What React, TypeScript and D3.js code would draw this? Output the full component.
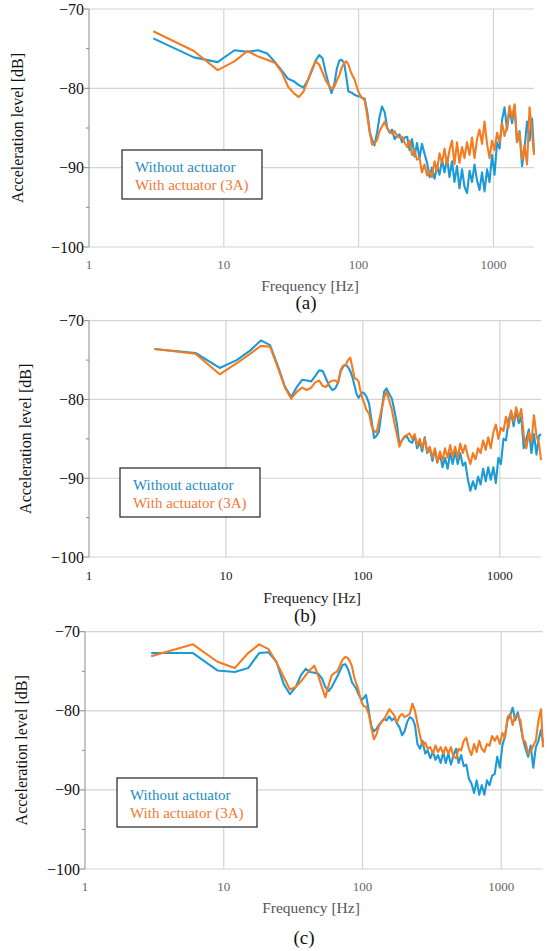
import React from 'react'
import * as d3 from 'd3'

// frequency points shared by every series [Hz]
const freqs = [
	3, 6, 9, 12, 15, 18, 21, 24, 27, 30,
	33, 36, 39, 42, 45, 48, 51, 54, 57, 60,
	63, 66, 69, 72, 75, 78, 81, 84, 87, 90,
	93, 96, 99,
	102, 106, 111, 116, 121, 126, 131, 137, 143, 149,
	156, 163, 170, 177, 185, 193, 201, 210, 219, 229,
	239, 249, 260, 271, 283, 295, 308, 322, 336, 350,
	366, 382, 398, 416, 434, 453, 472, 493, 514, 537,
	560, 585, 610, 637, 665, 694, 724, 756, 789, 823,
	859, 897, 936, 977, 1019, 1064, 1110, 1159, 1209, 1262,
	1317, 1375, 1435, 1497, 1563, 1631, 1702, 1776, 1854, 1935,
	2000
]

const blueA = [
	-73.7, -76.1, -76.7, -75.2, -75.4, -75.2, -75.6, -76.7, -77.8, -78.8,
	-79.1, -79.6, -79.9, -79.0, -77.8, -76.5, -75.8, -76.2, -78.0, -79.5,
	-80.6, -79.5, -77.5, -76.5, -76.4, -76.8, -78.5, -80.4, -80.5, -80.6,
	-80.8, -80.9, -81.0,
	-81.0, -81.2, -81.3, -83.0, -85.5, -86.5, -87.2, -85.6, -83.6, -82.3,
	-83.0, -85.0, -85.6, -85.2, -86.4, -86.0, -85.8, -86.8, -86.2, -86.1,
	-87.8, -86.4, -88.6, -86.9, -88.8, -87.0, -88.2, -89.4, -91.2, -90.0,
	-91.4, -89.8, -90.9, -89.0, -90.6, -88.8, -91.2, -89.2, -91.8, -89.8,
	-92.6, -90.2, -92.4, -93.2, -90.4, -91.8, -89.6, -91.6, -92.8, -90.6,
	-93.0, -90.2, -91.8, -88.4, -90.9, -86.8, -87.6, -84.0, -82.4, -85.2,
	-82.6, -84.4, -82.2, -86.8, -85.4, -89.8, -87.6, -84.2, -86.6, -83.8,
	-88.0
]

const orangeA = [
	-72.8, -75.3, -77.7, -76.6, -75.3, -76.0, -76.4, -76.8, -78.0, -79.8,
	-80.6, -81.1, -80.4, -79.0, -77.6, -76.6, -77.0, -78.0, -79.0, -79.6,
	-80.1, -79.8, -79.0, -78.3, -77.4, -76.8, -76.6, -77.0, -77.8, -78.4,
	-78.8, -79.6, -80.3,
	-80.8, -81.2, -81.5, -83.5, -85.6, -87.1, -87.0, -86.5, -85.4, -84.8,
	-84.2, -85.0, -85.5, -85.7, -85.4, -86.0, -86.2, -86.1, -86.8, -87.4,
	-86.6, -88.4, -87.8, -89.0, -88.8, -90.6, -89.6, -91.0, -90.4, -91.2,
	-89.2, -90.4, -88.2, -89.4, -87.6, -89.6, -87.8, -86.6, -89.6, -86.8,
	-89.4, -87.4, -88.8, -86.8, -88.4, -86.2, -88.8, -86.4, -85.2, -87.0,
	-84.2, -87.0, -88.8, -86.6, -87.8, -85.6, -86.8, -84.4, -86.0, -84.8,
	-82.2, -83.8, -82.0, -86.8, -85.6, -89.0, -87.2, -89.6, -82.4, -85.6,
	-88.4
]

const blueB = [
	-73.6, -74.1, -76.0, -75.0, -73.8, -72.5, -73.1, -75.8, -78.4, -79.7,
	-78.4, -77.5, -77.6, -77.7, -77.0, -76.3, -76.4, -77.4, -78.3, -78.8,
	-78.6, -77.8, -76.4, -75.8, -75.6, -75.9, -76.4, -77.2, -78.3, -79.3,
	-79.8, -79.4, -79.1,
	-79.2, -79.6, -80.5, -82.8, -84.9, -84.6, -84.1, -81.5, -79.0, -78.6,
	-79.3, -79.9, -81.4, -83.0, -85.7, -85.2, -84.8, -84.7, -85.3, -85.5,
	-84.6, -86.2, -85.4, -86.6, -84.8, -86.8, -86.2, -87.8, -86.4, -88.0,
	-87.0, -88.6, -87.4, -88.8, -86.8, -88.2, -86.6, -88.2, -86.8, -88.4,
	-88.0, -90.2, -91.6, -90.4, -91.4, -89.8, -90.8, -88.8, -90.4, -88.6,
	-90.2, -88.6, -90.6, -87.4, -88.2, -85.0, -85.2, -82.6, -81.6, -83.4,
	-81.4, -83.0, -82.2, -86.2, -85.0, -83.8, -86.8, -84.4, -87.0, -84.6,
	-84.4
]

const orangeB = [
	-73.6, -74.2, -76.8, -75.4, -74.2, -73.2, -73.3, -76.0, -78.5, -79.9,
	-79.0, -78.5, -78.8, -78.5, -77.8, -77.6, -78.3, -78.4, -77.8, -77.6,
	-77.6, -77.9, -76.2, -75.7, -75.6, -75.0, -74.7, -76.0, -77.3, -77.4,
	-77.7, -78.9, -79.8,
	-80.4, -81.3, -81.8, -83.4, -84.0, -84.2, -82.8, -81.2, -79.8, -79.0,
	-80.2, -81.3, -83.0, -84.4, -86.0, -85.2, -84.7, -84.5, -84.3, -85.0,
	-84.4, -85.8, -85.0, -86.2, -85.0, -86.6, -86.0, -87.4, -86.2, -88.0,
	-86.6, -87.8, -86.2, -87.4, -85.8, -87.2, -86.0, -87.4, -85.6, -86.8,
	-85.8, -87.2, -88.2, -86.8, -87.6, -86.2, -86.8, -85.2, -86.4, -84.8,
	-86.2, -84.2, -83.2, -85.0, -83.6, -84.0, -82.2, -83.6, -81.4, -82.8,
	-81.0, -82.4, -81.2, -84.6, -86.2, -84.2, -85.4, -82.0, -84.6, -85.6,
	-87.7
]

const blueC = [
	-72.7, -72.7, -74.9, -75.1, -74.6, -72.7, -72.6, -73.8, -76.6, -77.9,
	-77.0, -75.5, -74.7, -75.1, -75.2, -75.3, -75.9, -77.0, -77.5, -77.0,
	-76.3, -75.6, -74.9, -74.2, -74.1, -74.6, -75.4, -76.4, -76.8, -77.2,
	-77.8, -78.3, -78.6,
	-78.4, -78.0, -80.0, -82.0, -82.6, -82.3, -81.8, -81.4, -81.0, -81.2,
	-80.7, -81.2, -80.9, -81.6, -82.1, -83.1, -82.6, -81.4, -80.8, -81.0,
	-81.8, -84.2, -84.8, -83.8, -85.4, -85.0, -86.0, -85.2, -86.2, -85.6,
	-86.6, -85.2, -86.6, -85.4, -86.8, -85.6, -84.8, -86.6, -85.6, -87.0,
	-86.8, -88.6, -89.2, -90.4, -88.8, -90.6, -89.4, -90.6, -88.8, -89.4,
	-88.2, -88.0, -85.8, -87.2, -84.4, -83.2, -81.2, -80.6, -79.6, -81.2,
	-80.2, -81.8, -83.6, -84.8, -85.8, -84.4, -87.2, -84.6, -83.8, -82.4,
	-84.0
]

const orangeC = [
	-73.1, -71.6, -73.8, -74.6, -72.7, -71.6, -72.2, -73.9, -75.7, -77.3,
	-77.0, -76.3, -75.5, -74.8, -74.3, -75.6, -77.0, -78.3, -76.8, -75.5,
	-75.2, -75.0, -74.2, -73.5, -73.2, -73.3, -73.7, -74.4, -75.7, -76.5,
	-77.2, -78.2, -79.0,
	-79.4, -79.5, -80.4, -82.2, -83.6, -83.0, -82.0, -81.4, -81.1, -80.5,
	-79.8, -80.2, -80.6, -81.5, -80.7, -80.4, -80.8, -80.6, -80.4, -79.1,
	-80.0, -81.6, -83.2, -84.4, -84.0, -84.8, -84.6, -85.4, -84.4, -85.2,
	-84.6, -85.4, -84.6, -85.4, -84.6, -85.8, -86.0, -84.8, -85.0, -83.8,
	-83.4, -84.8, -85.6, -84.2, -85.2, -83.8, -84.8, -85.2, -84.2, -84.4,
	-83.2, -83.8, -83.2, -84.2, -82.8, -83.4, -80.8, -80.4, -81.8, -80.6,
	-80.6, -81.2, -83.6, -84.0, -85.4, -85.2, -84.4, -83.8, -81.2, -79.8,
	-84.6
]

const yMajor = [-70, -80, -90, -100]
const yMinor = [-75, -85, -95]
const xTicks = [1, 10, 100, 1000]
const xGrid = [10, 100, 1000]
const seriesNames = ['Without actuator', 'With actuator (3A)']

const BLUE = '#1c9ad6'
const ORANGE = '#f47b20'
const FONT = 'Liberation Serif, Times New Roman, serif'

// layout of the three stacked panels
const panels = [
	{ id: 'a', blue: blueA, orange: orangeA, left: 89, right: 534, top: 9, bottom: 247,
		tickY: 268.5, titleY: 291, titleX: 310, capY: 309, capX: 306, yTitleX: 17,
		legX: 122, legY: 150, dark: false },
	{ id: 'b', blue: blueB, orange: orangeB, left: 89, right: 541, top: 320.7, bottom: 557,
		tickY: 580, titleY: 603, titleX: 312, capY: 622, capX: 305, yTitleX: 25,
		legX: 120, legY: 468, dark: true },
	{ id: 'c', blue: blueC, orange: orangeC, left: 85, right: 543, top: 631.7, bottom: 869,
		tickY: 891, titleY: 913, titleX: 311, capY: 944, capX: 304, yTitleX: 21,
		legX: 117, legY: 778, dark: false }
]

type IPanel = typeof panels[number]

const Panel = ({ p }: { p: IPanel }) => {
	const x = d3.scaleLog().domain([1, 2000]).range([p.left, p.right])
	const y = d3.scaleLinear().domain([-100, -70]).range([p.bottom, p.top])
	const line = d3
		.line<number>()
		.x((_, i) => x(freqs[i]))
		.y(d => y(d))
	const tickColor = p.dark ? '#222' : '#666'
	const titleColor = p.dark ? '#222' : '#555'

	return (
		<g fontFamily={FONT}>
			{/* grid */}
			{yMajor.map(v => (
				<line key={'h' + v} x1={p.left} x2={p.right} y1={y(v)} y2={y(v)} stroke="#d3d3d3" strokeWidth={1.2} />
			))}
			{xGrid.map(f => (
				<line key={'v' + f} x1={x(f)} x2={x(f)} y1={p.top} y2={p.bottom} stroke="#d3d3d3" strokeWidth={1.2} />
			))}
			<line x1={p.left} x2={p.left} y1={p.top} y2={p.bottom} stroke="#a8a8a8" strokeWidth={1.3} />

			{/* y ticks */}
			{yMajor.map(v => (
				<g key={'yt' + v}>
					<line x1={p.left - 5} x2={p.left} y1={y(v)} y2={y(v)} stroke="#888" strokeWidth={1} />
					<text x={p.left - 5} y={y(v)} textAnchor="end" dominantBaseline="central"
						fontFamily={FONT} fontSize={16} fill="#111">{'\u2212' + Math.abs(v)}</text>
				</g>
			))}
			{yMinor.map(v => (
				<line key={'ym' + v} x1={p.left - 3} x2={p.left} y1={y(v)} y2={y(v)} stroke="#888" strokeWidth={1} />
			))}

			{/* x ticks */}
			{xTicks.map(f => (
				<text key={'xt' + f} x={x(f)} y={p.tickY} textAnchor="middle" fontFamily={FONT}
					fontSize={13} fill={tickColor}>{f}</text>
			))}

			{/* curves */}
			<path d={line(p.blue) || ''} fill="none" stroke={BLUE} strokeWidth={2.1} strokeLinejoin="round" />
			<path d={line(p.orange) || ''} fill="none" stroke={ORANGE} strokeWidth={2.1} strokeLinejoin="round" />

			{/* titles */}
			<text x={p.titleX} y={p.titleY} textAnchor="middle" fontFamily={FONT} fontSize={15.5}
				fill={titleColor}>Frequency [Hz]</text>
			<text x={p.capX} y={p.capY} textAnchor="middle" fontFamily={FONT} fontSize={19} fill="#111">({p.id})</text>
			<text transform={`translate(${p.yTitleX}, ${(p.top + p.bottom) / 2}) rotate(-90)`}
				textAnchor="middle" dominantBaseline="central" fontFamily={FONT} fontSize={16} fill="#111">
				Acceleration level [dB]
			</text>

			{/* legend */}
			<rect x={p.legX} y={p.legY} width={140} height={49} fill="#fff" stroke="#222" strokeWidth={1.2} />
			<text x={p.legX + 13} y={p.legY + 17} dominantBaseline="central" fontFamily={FONT} fontSize={15}
				fill="#1f8cc2">{seriesNames[0]}</text>
			<text x={p.legX + 13} y={p.legY + 35} dominantBaseline="central" fontFamily={FONT} fontSize={15}
				fill="#f07a35">{seriesNames[1]}</text>
		</g>
	)
}

const App = () => {
	return (
		<svg width={550} height={951} style={{ position: 'absolute', left: 0, top: 0, background: '#fff' }}>
			{panels.map(p => (
				<Panel key={p.id} p={p} />
			))}
		</svg>
	)
}

export default App
